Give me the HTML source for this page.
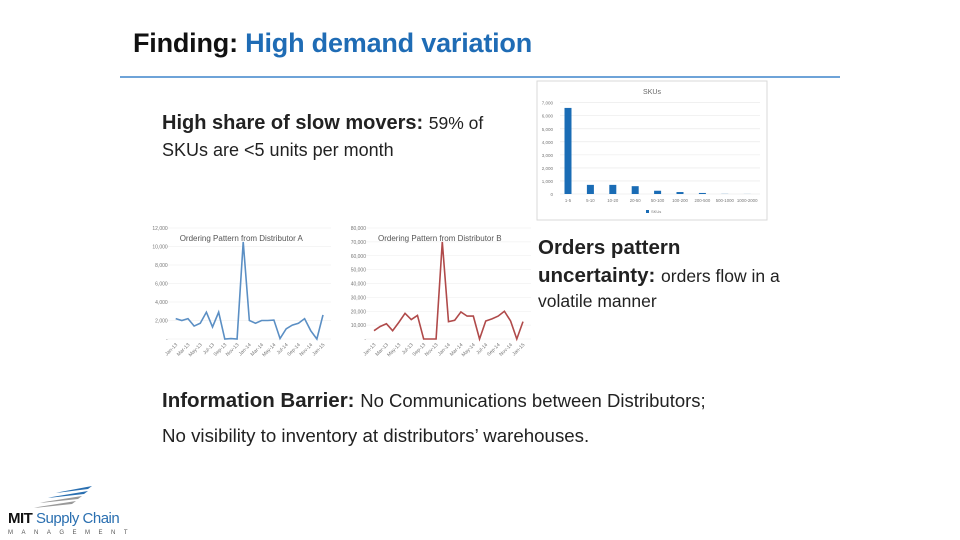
<!DOCTYPE html>
<html><head><meta charset="utf-8"><style>
body{margin:0;width:960px;height:540px;background:#fff;position:relative;overflow:hidden;font-family:"Liberation Sans",sans-serif}
.t{position:absolute;white-space:nowrap;color:#222}
</style></head><body>
<div class="t" style="left:133px;top:28px;font-size:27px;font-weight:bold;letter-spacing:-0.2px;color:#111">Finding: <span style="color:#1f6cb5">High demand variation</span></div>
<div style="position:absolute;left:120px;top:76px;width:720px;height:2px;background:#6ea3d8"></div>
<div class="t" style="left:162px;top:112px;font-size:20px;font-weight:bold">High share of slow movers: <span style="font-size:17.5px;font-weight:normal">59% of</span></div>
<div class="t" style="left:162px;top:140px;font-size:18px">SKUs are &lt;5 units per month</div>
<div class="t" style="left:538px;top:234px;font-size:20.5px;font-weight:bold;line-height:28px">Orders pattern<br>uncertainty: <span style="font-size:17.5px;font-weight:normal">orders flow in a</span></div>
<div class="t" style="left:538px;top:291px;font-size:17.5px">volatile manner</div>
<div class="t" style="left:162px;top:389px;font-size:20.5px;font-weight:bold">Information Barrier: <span style="font-size:18.5px;font-weight:normal">No Communications between Distributors;</span></div>
<div class="t" style="left:162px;top:425px;font-size:18.7px">No visibility to inventory at distributors’ warehouses.</div>
<svg id="s" width="960" height="540" style="position:absolute;left:0;top:0" font-family="Liberation Sans, sans-serif"></svg>
<div class="t" style="left:8px;top:510px;font-size:15px;font-weight:bold;color:#111;letter-spacing:-0.5px">MIT <span style="font-weight:normal;color:#2a6fb0">Supply Chain</span></div>
<div class="t" style="left:8px;top:530px;font-size:6px;letter-spacing:8.5px;color:#555">MANAGEMENT</div>
<script>
const skuCats=["1-5","5-10","10-20","20-50","50-100","100-200","200-500","500-1000","1000-2000"];
const skuVals=[6600,700,700,600,250,150,80,10,5];
const skuTicks=[0,1000,2000,3000,4000,5000,6000,7000];
const months=["Jan-13","Mar-13","May-13","Jul-13","Sep-13","Nov-13","Jan-14","Mar-14","May-14","Jul-14","Sep-14","Nov-14","Jan-15"];
const distA=[2200,2000,2200,1400,1700,2900,1300,2900,0,50,0,10500,2000,1700,2000,2000,2050,50,1100,1500,1700,2200,900,0,2600];
const distB=[6000,9000,11000,6000,12000,18500,14000,17000,0,0,0,70000,12500,13500,19500,16500,16500,0,13000,14500,16500,20000,13000,0,12500];
const ticksA=[0,2000,4000,6000,8000,10000,12000];
const ticksB=[0,10000,20000,30000,40000,50000,60000,70000,80000];
const s=document.getElementById('s');const NS='http://www.w3.org/2000/svg';
function el(t,a,txt){const e=document.createElementNS(NS,t);for(const k in a)e.setAttribute(k,a[k]);if(txt!=null)e.textContent=txt;s.appendChild(e);return e;}
const fmt=v=>v===0?'-':v.toLocaleString('en-US');
let r=el('rect',{x:537,y:81,width:230,height:139,fill:'#fff',stroke:'#d9d9d9'});

let t=el('text',{x:652,y:94,'font-size':7,fill:'#666','text-anchor':'middle'},'SKUs');

const sy=v=>194-v/7000*91.3, sx=i=>568+i*22.4;
skuTicks.forEach(v=>{let g=el('line',{x1:560,x2:760,y1:sy(v),y2:sy(v),stroke:'#e6e6e6','stroke-width':0.6});
let l=el('text',{x:553,y:sy(v)+2,'font-size':4.5,fill:'#777','text-anchor':'end'},v===0?'0':v.toLocaleString('en-US'));});
skuVals.forEach((v,i)=>{let b=el('rect',{x:sx(i)-3.5,y:sy(v),width:7,height:194-sy(v),fill:'#1a6cb5'});
let l=el('text',{x:sx(i),y:202,'font-size':4.3,fill:'#777','text-anchor':'middle'},skuCats[i]);});
let lg=el('rect',{x:646,y:210,width:3,height:3,fill:'#1a6cb5'});
lg=el('text',{x:651,y:213,'font-size':4,fill:'#777'},'SKUs');
function lineChart(x0,x1,vals,ticks,max,color,title,name){
 const y=v=>339-v/max*111, x=i=>x0+i*(x1-x0)/(vals.length-1);
 ticks.forEach(v=>{let g=el('line',{x1:x0-8,x2:x1+8,y1:y(v),y2:y(v),stroke:'#ececec','stroke-width':0.6});
 let l=el('text',{x:x0-8,y:y(v)+2,'font-size':5,fill:'#777','text-anchor':'end'},fmt(v));});
 let tt=el('text',{x:x0+4,y:241,'font-size':8,fill:'#555'},title);
 let p=el('polyline',{points:vals.map((v,i)=>x(i)+','+y(v)).join(' '),fill:'none',stroke:color,'stroke-width':1.6});
 months.forEach((m,k)=>{const xx=x(k*2);let l=el('text',{x:xx+2,y:345,'font-size':5,fill:'#777','text-anchor':'end',transform:`rotate(-45 ${xx+2} 345)`},m);});
}
lineChart(175.7,323,distA,ticksA,12000,'#5b8fc4','Ordering Pattern from Distributor A','chart-a');
lineChart(374,523,distB,ticksB,80000,'#b04a4a','Ordering Pattern from Distributor B','chart-b');
[[60,489,92,486],[52,494,88,491],[44,499,82,496],[38,504,76,501]].forEach((q,i)=>{let e=el('path',{d:`M${q[0]} ${q[1]+3} L${q[2]} ${q[3]} L${q[2]-4} ${q[3]+3} L${q[0]-4} ${q[1]+4}Z`,fill:i<2?'#2a6fb0':'#999'});});
</script>
</body></html>
